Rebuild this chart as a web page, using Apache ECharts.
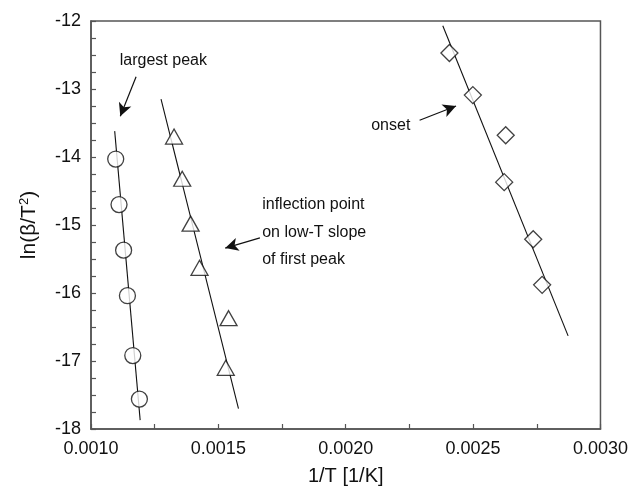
<!DOCTYPE html>
<html>
<head>
<meta charset="utf-8">
<script src="https://cdn.jsdelivr.net/npm/echarts@6/dist/echarts.min.js"></script>
<style>html,body{margin:0;padding:0;background:#fff;}#c{width:631px;height:491px;}</style>
</head>
<body>
<div id="c"></div>
<script>
// Data
const circleX = [0.001097, 0.00111, 0.001128, 0.001143, 0.001164, 0.00119];
const circleY = [-14.03, -14.70, -15.37, -16.04, -16.92, -17.56];
const triX = [0.001326, 0.001358, 0.001391, 0.001426, 0.00154, 0.001529];
const triY = [-13.70, -14.32, -14.98, -15.63, -16.37, -17.10];
const diaX = [0.002407, 0.002499, 0.002628, 0.002622, 0.002736, 0.002771];
const diaY = [-12.47, -13.09, -13.68, -14.37, -15.21, -15.88];

const circleFitX = [0.001093, 0.001193];
const circleFitY = [-13.62, -17.87];
const triFitX = [0.001275, 0.001579];
const triFitY = [-13.15, -17.70];
const diaFitX = [0.002381, 0.002873];
const diaFitY = [-12.07, -16.63];

const xTicks = [0.0010, 0.0015, 0.0020, 0.0025, 0.0030];
const yTicks = [-18, -17, -16, -15, -14, -13, -12];

const annotTexts = ['largest peak', 'inflection point\non low-T slope\nof first peak', 'onset'];
const annotX = [0.001113, 0.001672, 0.0021];
const annotY = [-12.58, -15.11, -13.54];

const arrowFromX = [0.001177, 0.001663, 0.002290];
const arrowFromY = [-12.82, -15.19, -13.46];
const arrowToX = [0.001115, 0.001527, 0.002433];
const arrowToY = [-13.40, -15.34, -13.25];

const zip = (a, b) => a.map((v, i) => [v, b[i]]);
const FONT = 'Liberation Sans, Arial, Helvetica, sans-serif';

const chart = echarts.init(document.getElementById('c'), null, {renderer: 'canvas'});
const markerStyle = {color: '#fff', borderColor: '#111', borderWidth: 1.3};
const fitStyle = {color: '#111', width: 1.1};

chart.setOption({
  animation: false,
  backgroundColor: '#fff',
  grid: {left: 91, right: 25, top: 21, bottom: 57, show: true, borderColor: '#555', borderWidth: 1.5, backgroundColor: 'transparent'},
  xAxis: {
    type: 'value', min: xTicks[0], max: xTicks[xTicks.length - 1], interval: 0.0005,
    name: '1/T [1/K]', nameLocation: 'middle', nameGap: 37,
    nameTextStyle: {fontFamily: FONT, fontSize: 20, color: '#111'},
    axisLine: {show: true, lineStyle: {color: '#555', width: 1.5}},
    axisTick: {show: true, inside: true, length: 5, lineStyle: {color: '#555', width: 1.2}},
    minorTick: {show: true, splitNumber: 2, length: 5, lineStyle: {color: '#555', width: 1.2}},
    splitLine: {show: false},
    axisLabel: {fontFamily: FONT, fontSize: 18, color: '#111', margin: 11, formatter: v => v.toFixed(4)}
  },
  yAxis: {
    type: 'value', min: yTicks[0], max: yTicks[yTicks.length - 1], interval: 1,
    name: 'ln(β/T{s|2})', nameLocation: 'middle', nameGap: 50, nameRotate: 90,
    nameTextStyle: {fontFamily: FONT, fontSize: 21, color: '#111',
      rich: {s: {fontFamily: FONT, fontSize: 13, color: '#111', verticalAlign: 'top', padding: [0, 0, 10, 0]}}},
    axisLine: {show: true, lineStyle: {color: '#555', width: 1.5}},
    axisTick: {show: true, inside: true, length: 5, lineStyle: {color: '#555', width: 1.2}},
    minorTick: {show: true, splitNumber: 4, length: 5, lineStyle: {color: '#555', width: 1.2}},
    splitLine: {show: false},
    axisLabel: {fontFamily: FONT, fontSize: 18, color: '#111', margin: 10}
  },
  series: [
    {type: 'line', data: zip(circleFitX, circleFitY), symbol: 'none', lineStyle: fitStyle, z: 1},
    {type: 'line', data: zip(triFitX, triFitY), symbol: 'none', lineStyle: fitStyle, z: 1},
    {type: 'line', data: zip(diaFitX, diaFitY), symbol: 'none', lineStyle: fitStyle, z: 1},
    {type: 'scatter', data: zip(circleX, circleY), symbol: 'circle', symbolSize: 16, itemStyle: markerStyle, z: 3},
    {type: 'scatter', data: zip(triX, triY), symbol: 'triangle', symbolSize: [17, 15], itemStyle: markerStyle, z: 3},
    {type: 'scatter', data: zip(diaX, diaY), symbol: 'diamond', symbolSize: [17, 17], itemStyle: markerStyle, z: 3},
    {
      type: 'line', data: [], z: 4, silent: true,
      markLine: {
        silent: true, animation: false,
        symbol: ['none', 'arrow'], symbolSize: [10, 13],
        lineStyle: {color: '#111', width: 1.2, type: 'solid'},
        label: {show: false},
        data: arrowFromX.map((x, i) => [{coord: [x, arrowFromY[i]]}, {coord: [arrowToX[i], arrowToY[i]]}])
      },
      markPoint: {
        silent: true, animation: false,
        symbol: 'circle', symbolSize: 0,
        label: {show: true, position: 'right', distance: 0, fontFamily: FONT, fontSize: 16, color: '#111', lineHeight: 27.5, align: 'left'},
        data: annotTexts.map((t, i) => ({coord: [annotX[i], annotY[i]], value: t, label: {formatter: t}}))
      }
    }
  ]
});
</script>
</body>
</html>
